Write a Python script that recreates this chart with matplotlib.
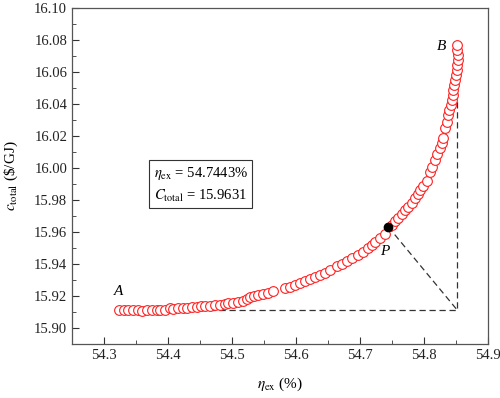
import matplotlib
matplotlib.use("Agg")
import matplotlib.pyplot as plt
from matplotlib.ticker import MultipleLocator

plt.rcParams['font.family'] = ['Liberation Serif', 'DejaVu Serif']
plt.rcParams['mathtext.fontset'] = 'stix'

# Pareto front points
eta_ex = [54.3234, 54.3313, 54.3375, 54.3453, 54.3531, 54.3594, 54.3672, 54.375,
          54.3828, 54.3875, 54.3953, 54.4031, 54.4078, 54.4156, 54.4234, 54.4297,
          54.4375, 54.4453, 54.4516, 54.4578, 54.4656, 54.4734, 54.4813, 54.4891,
          54.4938, 54.5016, 54.5094, 54.5172, 54.5234, 54.5281, 54.5344, 54.5406,
          54.5484, 54.5563, 54.5641, 54.5828, 54.5906, 54.5984, 54.6063, 54.6141,
          54.6219, 54.6297, 54.6375, 54.6453, 54.6531, 54.6641, 54.6719, 54.6797,
          54.6875, 54.6969, 54.7047, 54.7125, 54.7188, 54.7234, 54.7313, 54.7391,
          54.75, 54.7547, 54.7594, 54.7656, 54.7703, 54.775, 54.7813, 54.7859,
          54.7906, 54.7938, 54.7984, 54.8047, 54.8094, 54.8125, 54.8172, 54.8203,
          54.825, 54.8281, 54.8297, 54.8328, 54.8359, 54.8375, 54.8391, 54.8422,
          54.8438, 54.8453, 54.8453, 54.8469, 54.8484, 54.85, 54.8516, 54.8516,
          54.8531, 54.8531, 54.8516, 54.8516]
c_total = [15.9113, 15.9113, 15.9113, 15.9113, 15.9113, 15.9106, 15.9113, 15.9113,
           15.9113, 15.9113, 15.9113, 15.9125, 15.9119, 15.9125, 15.9125, 15.9125,
           15.9131, 15.9131, 15.9138, 15.9138, 15.9138, 15.9144, 15.9144, 15.915,
           15.9156, 15.9156, 15.9163, 15.9169, 15.9181, 15.9194, 15.92, 15.9206,
           15.9213, 15.9219, 15.9231, 15.925, 15.9256, 15.9269, 15.9281, 15.9294,
           15.9306, 15.9319, 15.9331, 15.9344, 15.9363, 15.9388, 15.94, 15.9419,
           15.9438, 15.9456, 15.9475, 15.95, 15.9519, 15.9538, 15.9563, 15.9588,
           15.9644, 15.9669, 15.9688, 15.9713, 15.9738, 15.9756, 15.9781, 15.9813,
           15.9838, 15.9863, 15.9888, 15.9919, 15.9975, 16.0006, 16.005, 16.0088,
           16.0125, 16.0156, 16.0188, 16.025, 16.0288, 16.0331, 16.0363, 16.0394,
           16.0425, 16.0456, 16.0488, 16.0519, 16.055, 16.0581, 16.0613, 16.0644,
           16.0675, 16.0706, 16.0738, 16.0769]

p_eta, p_cost = 54.7443, 15.9631
a_eta, a_cost = 54.3234, 15.9113
b_eta, b_cost = 54.8516, 16.0769

fig = plt.figure(figsize=(5, 3.98), dpi=100)
ax = fig.add_axes([0.144, 0.136, 0.832, 0.844])

# dashed helper lines: A -> corner -> B, and P -> corner
ax.plot([a_eta, b_eta, b_eta], [a_cost, a_cost, b_cost], ls=(0, (5, 3)), color='#333333', lw=0.9, zorder=1)
ax.plot([p_eta, b_eta], [p_cost, a_cost], ls=(0, (5, 3)), color='#333333', lw=0.9, zorder=1)

ax.plot(eta_ex, c_total, 'o', mfc='white', mec='#ff2020', ms=7, mew=0.8, ls='none', zorder=2)
ax.plot([p_eta], [p_cost], 'o', color='black', ms=6, zorder=3)

ax.text(a_eta, 15.9185, 'A', style='italic', fontsize=11, ha='center', va='bottom')
ax.text(54.828, 16.0756, 'B', style='italic', fontsize=11, ha='center', va='center')
ax.text(54.739, 15.9475, 'P', style='italic', fontsize=11, ha='center', va='center')

ax.text(54.3775, 15.9897,
        '$\\eta_{\\mathrm{ex}}$ = 54.7443%\n$C_{\\mathrm{total}}$ = 15.9631',
        fontsize=10.5, ha='left', va='center', linespacing=1.45,
        bbox=dict(boxstyle='square,pad=0.3', fc='white', ec='#333333', lw=0.8))

ax.set_xlim(54.25, 54.9)
ax.set_ylim(15.89, 16.10)
ax.xaxis.set_minor_locator(MultipleLocator(0.05))
ax.yaxis.set_minor_locator(MultipleLocator(0.01))
ax.set_xticks([54.3, 54.4, 54.5, 54.6, 54.7, 54.8, 54.9])
ax.set_xticklabels(['54.3', '54.4', '54.5', '54.6', '54.7', '54.8', '54.9'])
ax.set_yticks([15.90 + 0.02 * i for i in range(11)])
ax.set_yticklabels(['%.2f' % (15.90 + 0.02 * i) for i in range(11)])
ax.tick_params(which='both', direction='in', top=False, right=False, labelsize=10.5, colors='#333333', labelcolor='#222222')
ax.tick_params(which='major', length=5)
ax.tick_params(which='minor', length=3)
for s in ax.spines.values():
    s.set_color('#555555')
    s.set_linewidth(0.9)

ax.set_xlabel('$\\eta_{\\mathrm{ex}}$ (%)', fontsize=11, labelpad=10)
ax.set_ylabel('$c_{\\mathrm{total}}$ (\\$/GJ)', fontsize=11, labelpad=10)

fig.savefig('out.png', dpi=100)
